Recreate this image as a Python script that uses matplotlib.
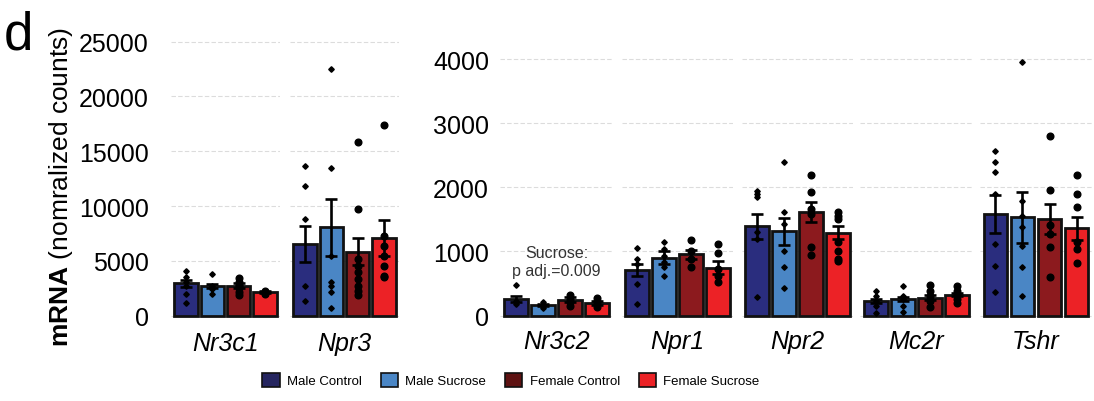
import matplotlib
matplotlib.use('Agg')
import matplotlib.pyplot as plt
from matplotlib.patches import Patch

plt.rcParams['font.family'] = ['Liberation Sans', 'DejaVu Sans']
plt.rcParams['mathtext.fontset'] = 'custom'
plt.rcParams['mathtext.rm'] = 'Liberation Sans'
plt.rcParams['mathtext.bf'] = 'Liberation Sans:bold'

GROUPS = ['Male Control', 'Male Sucrose', 'Female Control', 'Female Sucrose']
BAR_COLORS = ['#2a2d7e', '#4a86c5', '#8c1a1e', '#ec2226']
LEGEND_COLORS = ['#25255f', '#4a86c5', '#5e1212', '#ec2226']

GENES_LEFT = ['Nr3c1', 'Npr3']
GENES_RIGHT = ['Nr3c2', 'Npr1', 'Npr2', 'Mc2r', 'Tshr']

# group means per gene (MC, MS, FC, FS)
MEANS = {
    'Nr3c1': [2950, 2680, 2740, 2190],
    'Npr3': [6540, 8060, 5840, 7090],
    'Nr3c2': [260, 166, 250, 197],
    'Npr1': [712, 904, 956, 748],
    'Npr2': [1392, 1314, 1616, 1294],
    'Mc2r': [234, 260, 280, 327],
    'Tshr': [1590, 1530, 1510, 1360],
}

# standard errors
SEMS = {
    'Nr3c1': [350, 180, 220, 90],
    'Npr3': [1640, 2590, 1250, 1600],
    'Nr3c2': [40, 20, 35, 25],
    'Npr1': [95, 105, 70, 105],
    'Npr2': [195, 215, 150, 105],
    'Mc2r': [30, 30, 35, 25],
    'Tshr': [295, 390, 233, 180],
}

# individual animals
POINTS = {
    'Nr3c1': [[4100, 3500, 3100, 2740, 1980, 1160],
              [3770, 2740, 2430, 1980],
              [3400, 3100, 2900, 2700, 2500, 2200, 1900],
              [2300, 2100, 2000]],
    'Npr3': [[13690, 11860, 8820, 2680, 1370],
             [22500, 13470, 5470, 3100, 2680, 2190, 670],
             [15880, 9730, 5170, 4560, 3950, 3350, 2740, 2280, 1890],
             [17430, 7300, 6390, 5470, 4560, 3650, 3500]],
    'Nr3c2': [[470, 235, 180],
              [210, 155, 115],
              [320, 260, 210, 155],
              [270, 235, 180, 130]],
    'Npr1': [[1055, 883, 805, 494, 182],
             [1143, 1039, 935, 831, 753, 623],
             [1184, 1013, 883, 753],
             [1117, 977, 727, 623, 519]],
    'Npr2': [[1948, 1896, 1844, 1299, 1195, 286],
             [2390, 1610, 1429, 1013, 753, 431],
             [2197, 1922, 1662, 1584, 1065, 945],
             [1610, 1558, 1506, 1143, 1013, 883, 857]],
    'Mc2r': [[390, 312, 234, 156, 42],
             [457, 312, 260, 156, 52],
             [483, 390, 312, 234, 130],
             [468, 390, 338, 260, 197]],
    'Tshr': [[2571, 2400, 2244, 1896, 1117, 769, 364],
             [3958, 1792, 1558, 1377, 1091, 764, 301],
             [2795, 1964, 1418, 1273, 1075, 608],
             [2197, 1896, 1688, 1143, 1039, 816]],
}

LEFT_TICKS = [0, 5000, 10000, 15000, 20000, 25000]
RIGHT_TICKS = [0, 1000, 2000, 3000, 4000]

W, H = 1094, 402
fig = plt.figure(figsize=(W / 100, H / 100), dpi=100)


def add_ax(x0, x1, top_px, bottom_px):
    return fig.add_axes([x0 / W, 1 - bottom_px / H, (x1 - x0) / W, (bottom_px - top_px) / H])


def draw_facet(ax, gene, ylim, ticks, show_y, ypad, xpad):
    xs = [1, 2, 3, 4]
    ax.bar(xs, MEANS[gene], width=0.88, color=BAR_COLORS, edgecolor='#111111',
           linewidth=2.0, zorder=2)
    for i, pts in enumerate(POINTS[gene]):
        male = i < 2
        ax.plot([xs[i]] * len(pts), pts, ls='none',
                marker='D' if male else 'o', ms=2.8 if male else 4.8,
                color='black', zorder=3)
    ax.errorbar(xs, MEANS[gene], yerr=SEMS[gene], fmt='none', ecolor='black',
                elinewidth=1.9, capsize=4, capthick=1.9, zorder=4)
    ax.set_xlim(0.43, 4.57)
    ax.set_ylim(*ylim)
    ax.set_yticks(ticks)
    ax.set_yticklabels([str(t) for t in ticks], fontsize=18)
    ax.set_xticks([2.5])
    ax.set_xticklabels([gene], fontsize=18, style='italic')
    ax.tick_params(length=0, labelleft=show_y, pad=xpad, axis='x')
    ax.tick_params(length=0, labelleft=show_y, pad=ypad, axis='y')
    ax.yaxis.grid(True, linestyle=(0, (4, 2)), color='#dcdcdc', linewidth=0.8)
    ax.set_axisbelow(True)
    for s in ax.spines.values():
        s.set_visible(False)
    ax.patch.set_alpha(0)


left_spans = [(171, 280), (290, 399)]
for k, (gene, (x0, x1)) in enumerate(zip(GENES_LEFT, left_spans)):
    ax = add_ax(x0, x1, 37.2, 321.1)
    draw_facet(ax, gene, (-400, 25500), LEFT_TICKS, k == 0, 16, 8)

right_spans = [(500, 613), (622, 733), (742, 853), (860, 973), (980, 1092)]
for k, (gene, (x0, x1)) in enumerate(zip(GENES_RIGHT, right_spans)):
    ax = add_ax(x0, x1, 56.8, 320.5)
    draw_facet(ax, gene, (-60, 4050), RIGHT_TICKS, k == 0, 8, 7)
    if gene == 'Nr3c2':
        ax.text(2.5, 840, 'Sucrose:\np adj.=0.009', ha='center', va='center',
                fontsize=11.5, color='#333333', linespacing=1.25)

fig.text(61 / W, 1 - 187 / H, r'$\mathbf{mRNA}$ (nomralized counts)', rotation=90,
         ha='center', va='center', fontsize=19)
fig.text(4 / W, 1 - 10 / H, 'd', ha='left', va='top', fontsize=38)

handles = [Patch(facecolor=c, edgecolor='#111111', linewidth=1.2) for c in LEGEND_COLORS]
fig.legend(handles, GROUPS, loc='center', bbox_to_anchor=(511 / W, 1 - 381 / H),
           ncol=4, frameon=False, fontsize=9.5, handlelength=1.3, handleheight=1.3,
           handletextpad=0.55, columnspacing=1.45)

fig.savefig('out.png', dpi=100)
